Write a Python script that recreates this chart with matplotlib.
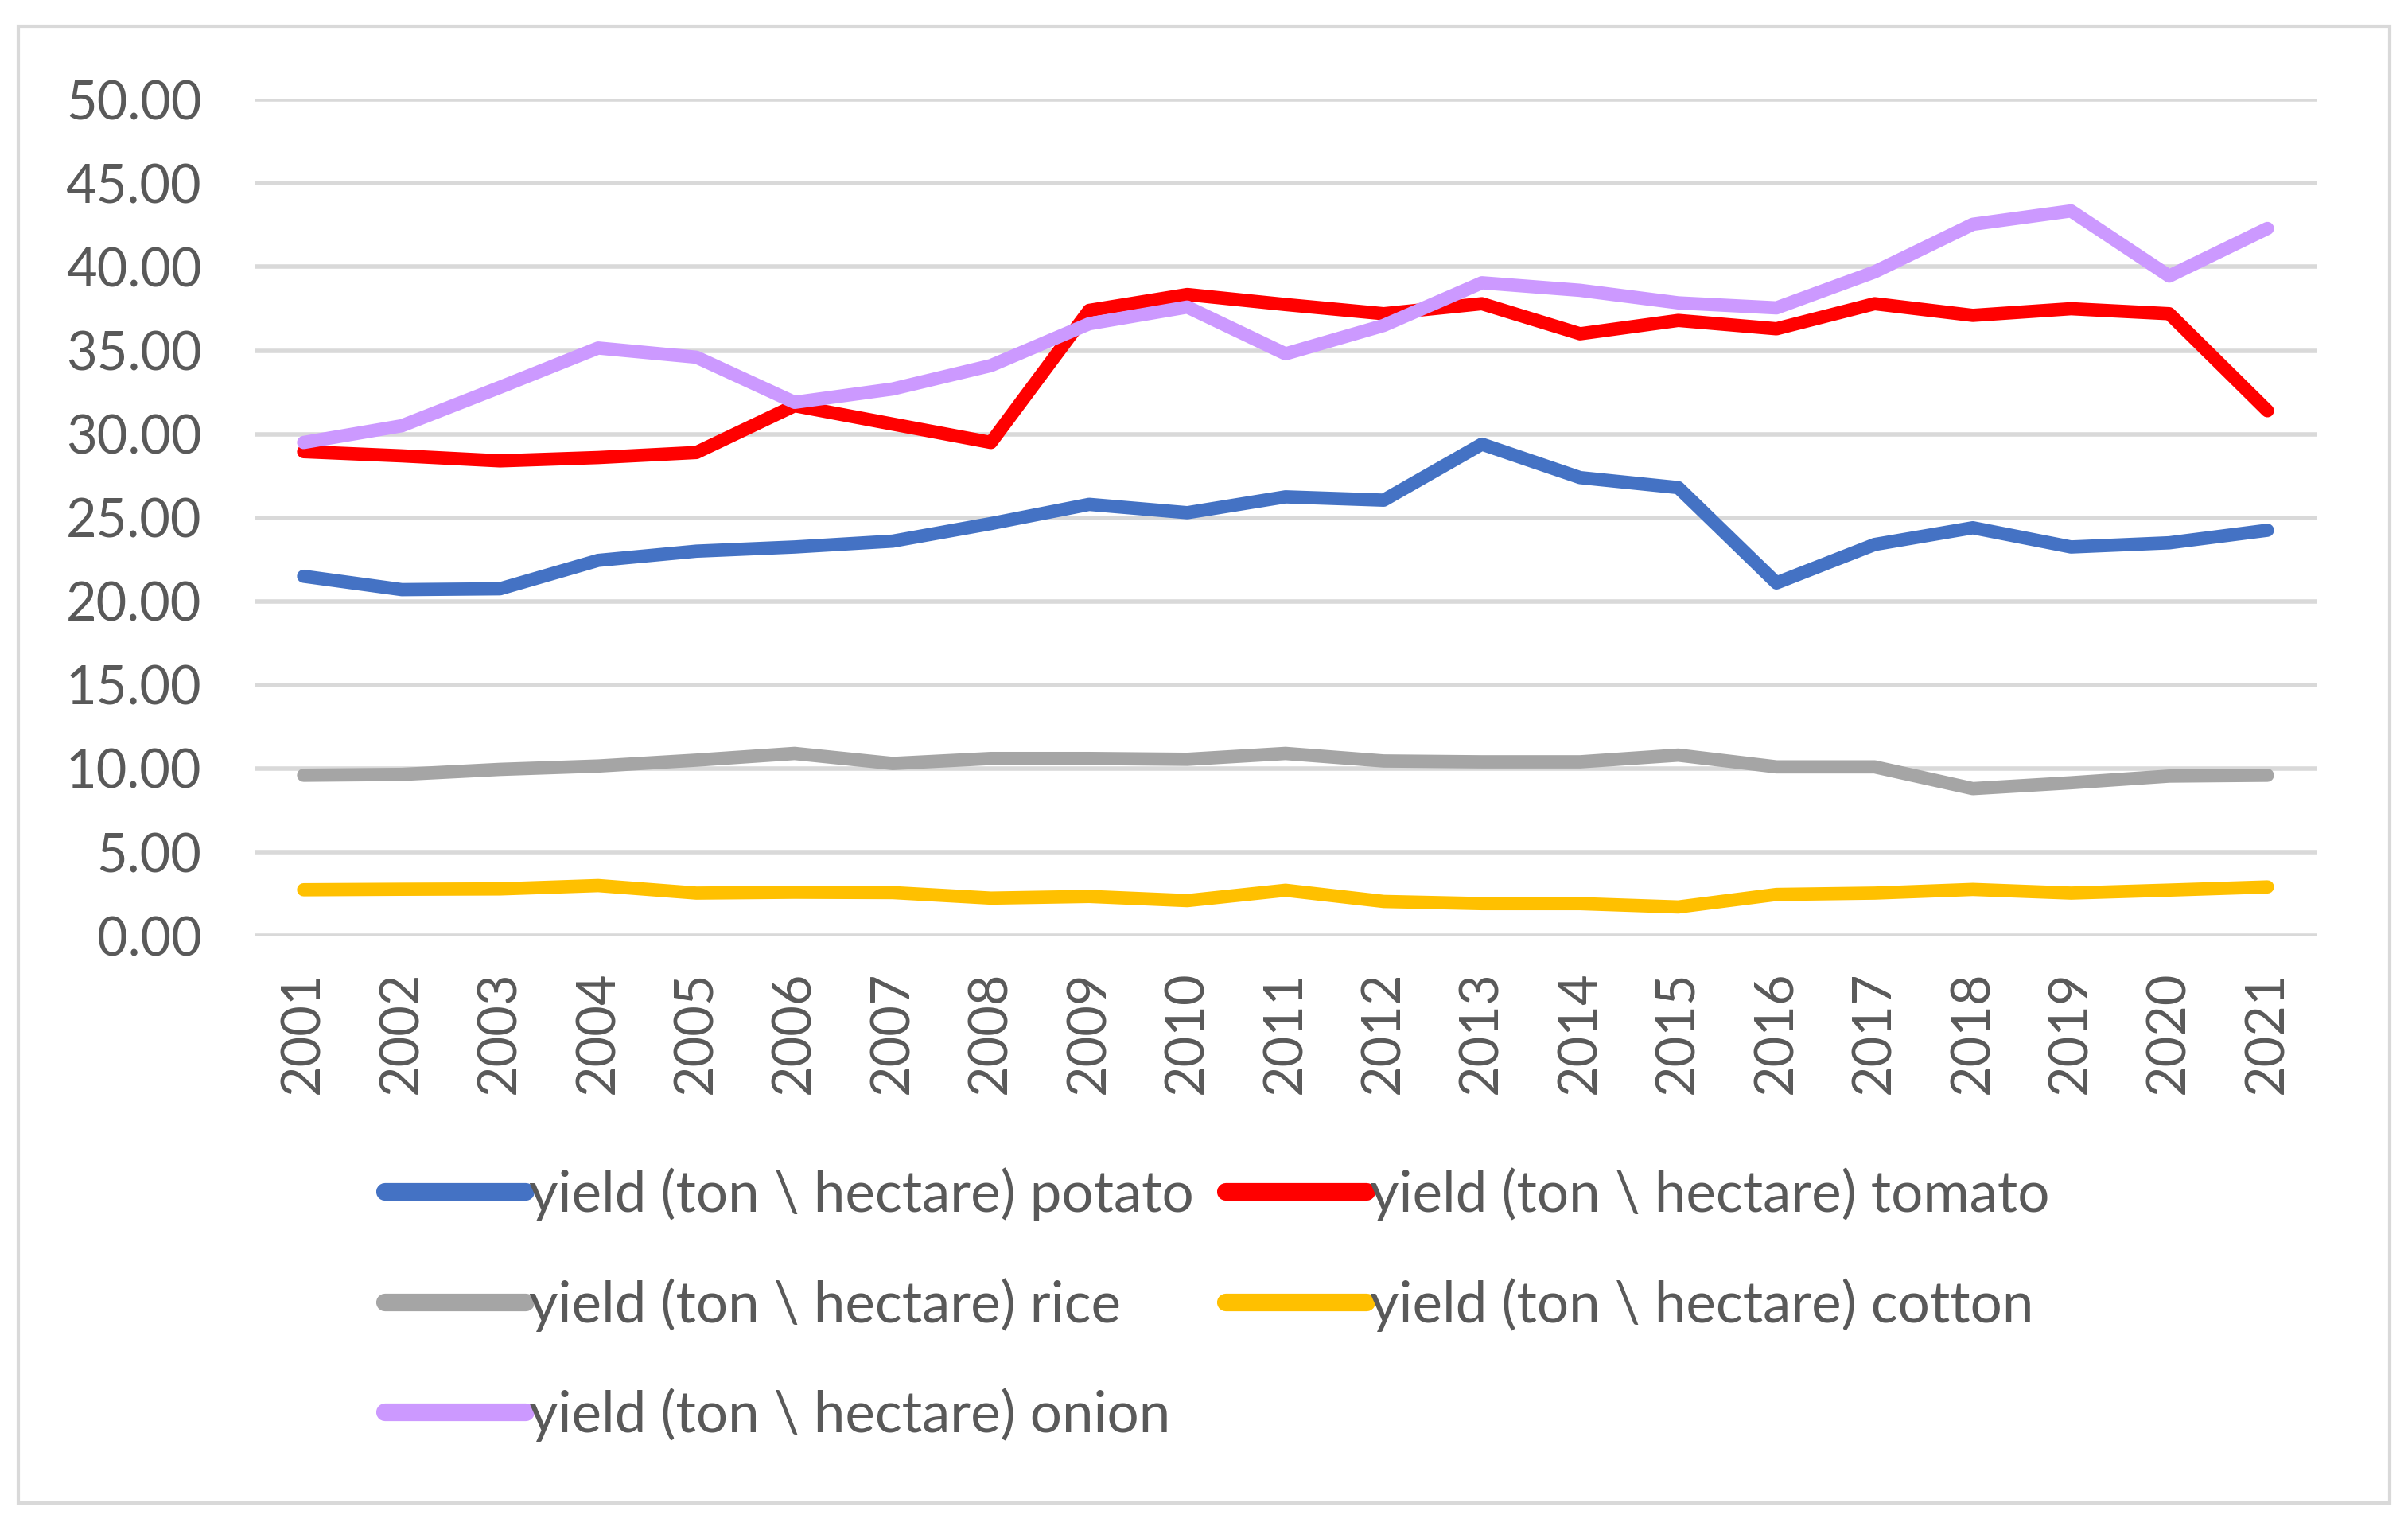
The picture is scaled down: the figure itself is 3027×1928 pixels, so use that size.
import matplotlib.pyplot as plt
from matplotlib.patches import Rectangle

years = [str(y) for y in range(2001, 2022)]

potato = [21.5, 20.7, 20.75, 22.45, 23.0, 23.25, 23.6, 24.65, 25.8, 25.3, 26.25,
          26.05, 29.4, 27.4, 26.8, 21.1, 23.4, 24.4, 23.25, 23.5, 24.25]
tomato = [28.95, 28.7, 28.4, 28.6, 28.9, 31.7, 30.6, 29.5, 37.4, 38.35, 37.75,
          37.2, 37.8, 36.0, 36.8, 36.3, 37.8, 37.1, 37.5, 37.2, 31.4]
rice = [9.6, 9.65, 9.95, 10.15, 10.5, 10.9, 10.3, 10.6, 10.6, 10.55, 10.9,
        10.45, 10.4, 10.4, 10.8, 10.1, 10.1, 8.8, 9.15, 9.55, 9.6]
cotton = [2.75, 2.78, 2.8, 3.0, 2.55, 2.6, 2.58, 2.25, 2.35, 2.1, 2.72,
          2.05, 1.92, 1.92, 1.72, 2.47, 2.55, 2.77, 2.55, 2.73, 2.92]
onion = [29.5, 30.5, 32.8, 35.15, 34.6, 31.9, 32.7, 34.1, 36.6, 37.6, 34.8,
         36.5, 39.05, 38.6, 37.85, 37.55, 39.7, 42.55, 43.35, 39.45, 42.3]

series = [
    ("yield (ton \\ hectare) potato", potato, "#4472C4"),
    ("yield (ton \\ hectare) tomato", tomato, "#FF0000"),
    ("yield (ton \\ hectare) rice", rice, "#A5A5A5"),
    ("yield (ton \\ hectare) cotton", cotton, "#FFC000"),
    ("yield (ton \\ hectare) onion", onion, "#CC99FF"),
]

TEXT = "#595959"
GRID = "#D9D9D9"

plt.rcParams['font.family'] = ['Lato', 'DejaVu Sans']

fig = plt.figure(figsize=(15.135, 9.64), dpi=200)
ax = fig.add_axes([0.1057, 0.390, 0.962 - 0.1057, 0.935 - 0.390])

# outer chart border
fig.patches.append(Rectangle((23 / 3027, 1 - 1889 / 1928), (3004 - 23) / 3027,
                             (1889 - 33) / 1928, transform=fig.transFigure,
                             fill=False, edgecolor=GRID, linewidth=1.5))

handles = []
x = list(range(len(years)))
for label, vals, color in series:
    h, = ax.plot(x, vals, color=color, linewidth=6, label=label,
                 solid_capstyle='round', solid_joinstyle='round')
    handles.append(h)

ax.set_xlim(-0.5, len(years) - 0.5)
ax.set_ylim(0, 50)
ax.set_yticks(range(0, 51, 5))
ax.set_yticklabels([f"{v:.2f}" for v in range(0, 51, 5)])
ax.set_xticks(x)
ax.set_xticklabels(years, rotation=90)

ax.grid(axis='y', color=GRID, linewidth=2)
ax.set_axisbelow(True)
for s in ax.spines.values():
    s.set_visible(False)
ax.tick_params(axis='both', length=0, labelsize=24, labelcolor=TEXT)
ax.tick_params(axis='y', pad=24)
ax.tick_params(axis='x', pad=16)

# row-major legend: potato, tomato / rice, cotton / onion
order = [0, 2, 4, 1, 3]
leg = fig.legend([handles[i] for i in order], [series[i][0] for i in order],
                 ncol=2, loc='upper left', bbox_to_anchor=(0.160, 0.239),
                 frameon=False, fontsize=25.5, handlelength=2.5,
                 handletextpad=0.05, columnspacing=0.57, labelspacing=1.0,
                 borderpad=0, borderaxespad=0)
for t in leg.get_texts():
    t.set_color(TEXT)
for lh in leg.get_lines():
    lh.set_linewidth(8)

fig.savefig("out.png", dpi=200)
